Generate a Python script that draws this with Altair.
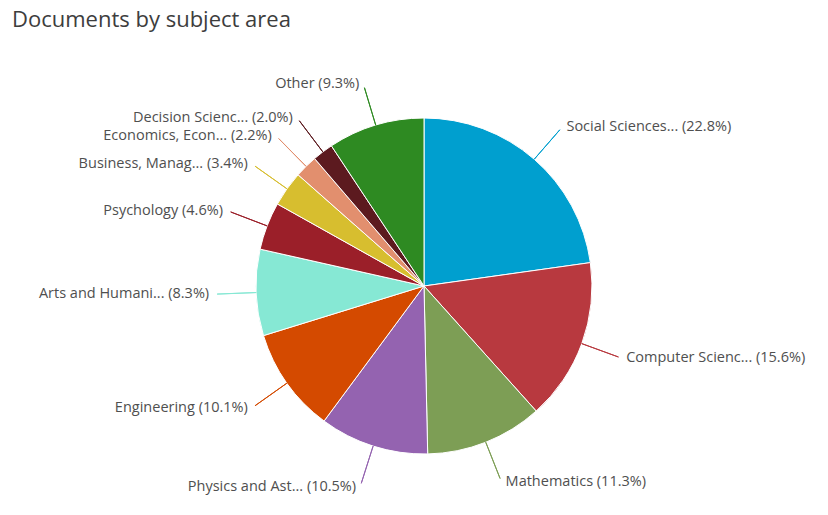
import altair as alt
import pandas as pd

subjects = [
    "Social Sciences...", "Computer Scienc...", "Mathematics", "Physics and Ast...",
    "Engineering", "Arts and Humani...", "Psychology", "Business, Manag...",
    "Economics, Econ...", "Decision Scienc...", "Other",
]
percent = [22.8, 15.6, 11.3, 10.5, 10.1, 8.3, 4.6, 3.4, 2.2, 2.0, 9.3]
colors = [
    "#009fcf", "#b8393f", "#7d9e55", "#9463b0", "#d44a00", "#86e8d4",
    "#9b1f29", "#d7be2f", "#e28f6e", "#5c1a1f", "#2e8a22",
]

df = pd.DataFrame({"subject": subjects, "value": percent, "idx": list(range(len(subjects)))})

base = alt.Chart(df).transform_window(
    cum="sum(value)", sort=[alt.SortField("idx")], frame=[None, 0]
).transform_joinaggregate(
    total="sum(value)"
).transform_calculate(
    start="2*PI*(datum.cum - datum.value)/datum.total",
    end="2*PI*datum.cum/datum.total",
    mid="2*PI*(datum.cum - datum.value/2)/datum.total",
    mid2="2*PI*(datum.cum - datum.value/2)/datum.total + 0.0004",
    label="datum.subject + ' (' + format(datum.value, '.1f') + '%)'",
)

color = alt.Color("subject:N", scale=alt.Scale(domain=subjects, range=colors), legend=None)

pie = base.mark_arc(stroke="white", strokeWidth=1).encode(
    theta=alt.Theta("start:Q", scale=None),
    theta2="end:Q",
    radius=alt.value(168),
    color=color,
)

connectors = base.mark_arc(strokeWidth=1).encode(
    theta=alt.Theta("mid:Q", scale=None),
    theta2="mid2:Q",
    radius=alt.value(207),
    radius2=alt.value(168),
    color=color,
    stroke=color,
)

font = "Open Sans"
label_color = "#4f4f4f"
right_labels = base.transform_filter("datum.mid < PI").mark_text(
    align="left", baseline="middle", dx=4, font=font, fontSize=14.5, color=label_color
).encode(theta=alt.Theta("mid:Q", scale=None), radius=alt.value(211), text="label:N")

left_labels = base.transform_filter("datum.mid >= PI").mark_text(
    align="right", baseline="middle", dx=-4, font=font, fontSize=14.5, color=label_color
).encode(theta=alt.Theta("mid:Q", scale=None), radius=alt.value(211), text="label:N")

chart = alt.layer(pie, connectors, right_labels, left_labels).properties(
    width=808,
    height=458,
    padding={"left": 20, "top": 57, "right": 0, "bottom": 0},
    autosize=alt.AutoSizeParams(type="none"),
    title=alt.TitleParams(
        "Documents by subject area", anchor="start", frame="group", offset=25, dx=-8,
        font=font, fontSize=22, fontWeight="normal", color="#3d3d3d",
    ),
).configure_view(stroke=None)

chart.save("out.html", embed_options={"renderer": "svg", "actions": False})
